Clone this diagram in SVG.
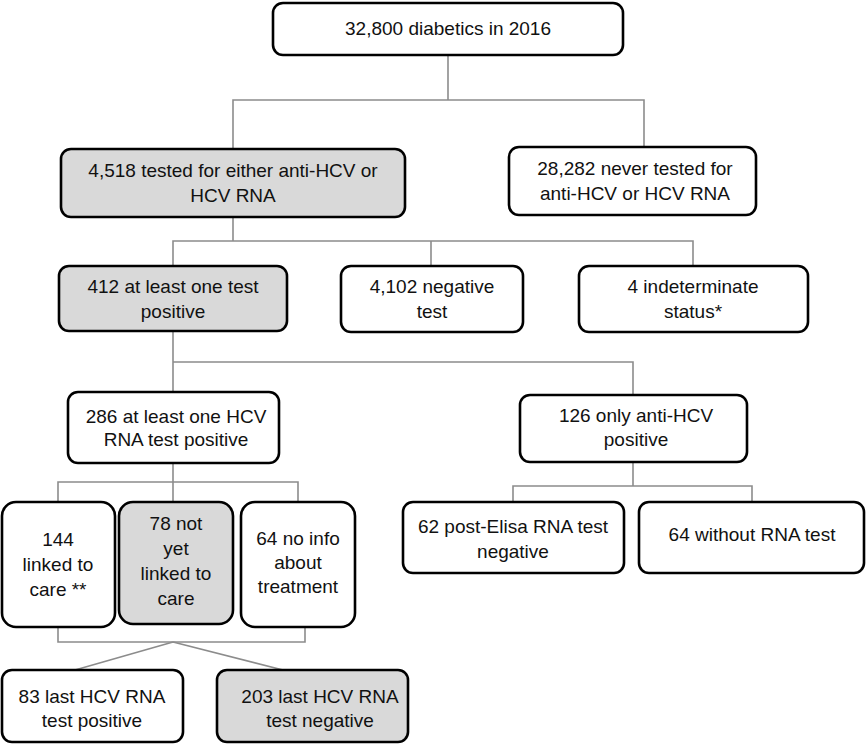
<svg xmlns="http://www.w3.org/2000/svg" width="866" height="745" viewBox="0 0 866 745">
<style>
.box{fill:#ffffff;stroke:#000000;stroke-width:2.6;}
.gray{fill:#d9d9d9;}
.t{font-family:"Liberation Sans",Arial,sans-serif;font-size:19px;fill:#111111;text-anchor:middle;}
.c{fill:none;stroke:#8c8c8c;stroke-width:1.6;}
</style>
<rect width="866" height="745" fill="#ffffff"/>
<g id="connectors">
<path class="c" d="M448 55V100M233 149V100H644V147"/>
<path class="c" d="M233 217V241M173 266V241H693V266M431 241V266"/>
<path class="c" d="M173 331V392M173 362H633V395"/>
<path class="c" d="M173 463V502M58 502V482H298V502"/>
<path class="c" d="M633 462V486M513 502V486H752V502"/>
<path class="c" d="M58 627V642H305V627"/>
<path class="c" d="M173 642L75 670M173 642L283 670"/>
</g>
<g id="n1"><rect class="box" x="273" y="3" width="350" height="52" rx="10"/><text class="t" x="448" y="35">32,800 diabetics in 2016</text></g>
<g id="n2"><rect class="box gray" x="61" y="149" width="344" height="68" rx="10"/><text class="t" x="233" y="177">4,518 tested for either anti-HCV or</text><text class="t" x="233" y="202">HCV RNA</text></g>
<g id="n3"><rect class="box" x="509" y="147" width="247" height="68" rx="10"/><text class="t" x="635" y="175">28,282 never tested for</text><text class="t" x="635" y="200">anti-HCV or HCV RNA</text></g>
<g id="n4"><rect class="box gray" x="59" y="266" width="228" height="65" rx="10"/><text class="t" x="173" y="293">412 at least one test</text><text class="t" x="173" y="318">positive</text></g>
<g id="n5"><rect class="box" x="341" y="266" width="182" height="66" rx="10"/><text class="t" x="432" y="293">4,102 negative</text><text class="t" x="432" y="318">test</text></g>
<g id="n6"><rect class="box" x="579" y="266" width="229" height="66" rx="10"/><text class="t" x="693" y="293">4 indeterminate</text><text class="t" x="693" y="318">status*</text></g>
<g id="n7"><rect class="box" x="68" y="392" width="211" height="71" rx="10"/><text class="t" x="176" y="423">286 at least one HCV</text><text class="t" x="176" y="446">RNA test positive</text></g>
<g id="n8"><rect class="box" x="520" y="395" width="227" height="67" rx="10"/><text class="t" x="636" y="422">126 only anti-HCV</text><text class="t" x="636" y="446">positive</text></g>
<g id="n9"><rect class="box" x="2" y="502" width="113" height="125" rx="14"/><text class="t" x="58" y="546">144</text><text class="t" x="58" y="571">linked to</text><text class="t" x="58" y="596">care **</text></g>
<g id="n10"><rect class="box gray" x="119" y="502" width="114" height="122" rx="14"/><text class="t" x="176" y="530">78 not</text><text class="t" x="176" y="555">yet</text><text class="t" x="176" y="580">linked to</text><text class="t" x="176" y="605">care</text></g>
<g id="n11"><rect class="box" x="241" y="502" width="114" height="125" rx="14"/><text class="t" x="298" y="545">64 no info</text><text class="t" x="298" y="569">about</text><text class="t" x="298" y="593">treatment</text></g>
<g id="n12"><rect class="box" x="403" y="502" width="221" height="71" rx="10"/><text class="t" x="513" y="533">62 post-Elisa RNA test</text><text class="t" x="513" y="558">negative</text></g>
<g id="n13"><rect class="box" x="639" y="502" width="225" height="71" rx="10"/><text class="t" x="752" y="541">64 without RNA test</text></g>
<g id="n14"><rect class="box" x="2" y="670" width="181" height="72" rx="10"/><text class="t" x="92" y="703">83 last HCV RNA</text><text class="t" x="92" y="727">test positive</text></g>
<g id="n15"><rect class="box gray" x="217" y="670" width="191" height="72" rx="10"/><text class="t" x="320" y="703">203 last HCV RNA</text><text class="t" x="320" y="727">test negative</text></g>
</svg>
